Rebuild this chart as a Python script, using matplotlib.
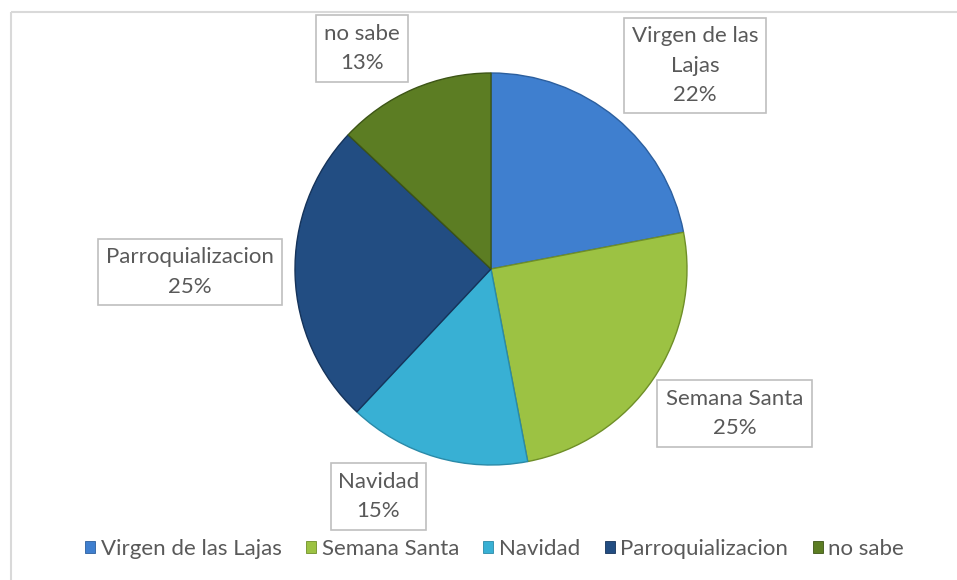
import matplotlib
matplotlib.use("Agg")
import matplotlib.pyplot as plt
from matplotlib.patches import Rectangle, Patch

categories = ["Virgen de las Lajas", "Semana Santa", "Navidad", "Parroquializacion", "no sabe"]
values = [22, 25, 15, 25, 13]
label_texts = ["Virgen de las\nLajas\n22%", "Semana Santa\n25%", "Navidad\n15%",
               "Parroquializacion\n25%", "no sabe\n13%"]
colors = ["#3f7fcf", "#9cc243", "#38b0d4", "#224d82", "#5c7d23"]
edge_colors = ["#2c5f9e", "#6f8f28", "#2a8aa8", "#15335a", "#3d5516"]

W, H = 957, 580
fig = plt.figure(figsize=(W / 100, H / 100), dpi=100)
ax = fig.add_axes([0, 0, 1, 1])

font = ["Lato", "DejaVu Sans"]
txt_color = "#595959"
fs = 16

cx, cy, r = 491, H - 269, 196
wedges, _ = ax.pie(values, colors=colors, startangle=90, counterclock=False,
                   center=(cx, cy), radius=r,
                   wedgeprops=dict(linewidth=1.0))
for w, ec in zip(wedges, edge_colors):
    w.set_edgecolor(ec)

ax.set_xlim(0, W)
ax.set_ylim(0, H)
ax.set_aspect("equal")
ax.axis("off")

# outer chart border (top and left visible)
ax.plot([10.5, W], [H - 12, H - 12], color="#d9d9d9", lw=1.5, solid_capstyle="butt")
ax.plot([10.5, 10.5], [0, H - 12], color="#d9d9d9", lw=1.5, solid_capstyle="butt")

# data label boxes: (x0, y0_top, width, height) in pixels
boxes = [(624, 18, 142, 95), (657, 380, 155, 67), (331, 463, 95, 67),
         (98, 239, 184, 66), (316, 15, 92, 67)]
for (bx, by, bw, bh), t in zip(boxes, label_texts):
    ax.add_patch(Rectangle((bx, H - by - bh), bw, bh, facecolor="white",
                           edgecolor="#bfbfbf", lw=1.2))
    ax.text(bx + bw / 2, H - by - bh / 2, t, ha="center", va="center",
            fontsize=fs, color=txt_color, family=font, linespacing=1.6)

handles = [Patch(facecolor=c, edgecolor=ec, lw=0.6) for c, ec in zip(colors, edge_colors)]
leg = ax.legend(handles, categories, loc="center", bbox_to_anchor=(494.5 / W, (H - 549) / H),
                bbox_transform=fig.transFigure, ncol=5, frameon=False,
                handlelength=0.45, handleheight=0.45, handletextpad=0.25,
                columnspacing=1.1, prop=dict(family=font, size=fs))
for t in leg.get_texts():
    t.set_color(txt_color)

fig.savefig("out.png", dpi=100, facecolor="white")
